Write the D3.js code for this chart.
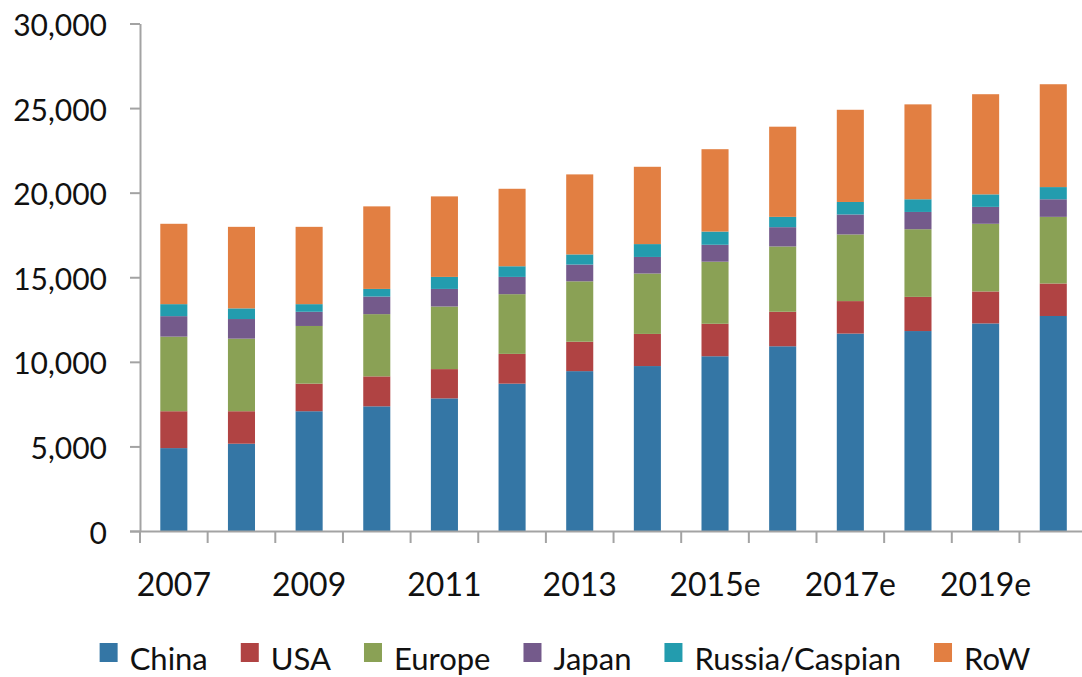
<!DOCTYPE html>
<html>
<head>
<meta charset="utf-8">
<script src="https://cdn.jsdelivr.net/npm/d3@7"></script>
<style>
  body { margin: 0; background: #fff; }
  svg { display: block; }
  text { font-family: Lato, "Open Sans", sans-serif; fill: #111; }
</style>
</head>
<body>
<svg id="chart" width="1082" height="677"></svg>
<script>
// categories and series values
const years = ['2007', '2008', '2009', '2010', '2011', '2012', '2013', '2014',
  '2015e', '2016e', '2017e', '2018e', '2019e', '2020e'];
const labelYears = ['2007', '2009', '2011', '2013', '2015e', '2017e', '2019e'];
const seriesNames = ['China', 'USA', 'Europe', 'Japan', 'Russia/Caspian', 'RoW'];

const china   = [4900, 5160, 7080, 7370, 7840, 8710, 9450, 9750, 10330, 10920, 11670, 11820, 12270, 12710];
const usa     = [2180, 1920, 1630, 1770, 1730, 1760, 1740, 1900, 1920, 2040, 1920, 2020, 1890, 1920];
const europe  = [4410, 4290, 3410, 3680, 3700, 3530, 3570, 3570, 3670, 3860, 3940, 4000, 4000, 3940];
const japan   = [1210, 1160, 840, 1040, 1040, 1020, 990, 980, 1000, 1140, 1180, 1020, 1000, 1040];
const russia  = [710, 630, 450, 450, 710, 630, 600, 760, 780, 610, 740, 750, 740, 720];
const row     = [4750, 4820, 4570, 4880, 4760, 4580, 4730, 4570, 4870, 5330, 5450, 5610, 5920, 6080];

const yTicks = [0, 5000, 10000, 15000, 20000, 25000, 30000];
const colors = ['#3476a5', '#b04343', '#8aa155', '#745a8b', '#239cae', '#e27f42'];

const table = years.map((yr, i) => ({
  year: yr,
  'China': china[i], 'USA': usa[i], 'Europe': europe[i],
  'Japan': japan[i], 'Russia/Caspian': russia[i], 'RoW': row[i]
}));

const svg = d3.select('#chart');
const plotLeft = 140, plotBottom = 531, plotTop = 23.5;
const step = 67.65;
const axisColor = '#a3a3a3';

const x = d3.scaleBand()
  .domain(years)
  .range([plotLeft, plotLeft + step * years.length])
  .paddingInner(0.6)
  .paddingOuter(0.3);

const y = d3.scaleLinear()
  .domain([0, 30000])
  .range([plotBottom, plotTop]);

const color = d3.scaleOrdinal().domain(seriesNames).range(colors);

const stacked = d3.stack().keys(seriesNames)(table);

// bars
svg.append('g')
  .selectAll('g')
  .data(stacked)
  .join('g')
  .attr('fill', d => color(d.key))
  .selectAll('rect')
  .data(d => d)
  .join('rect')
  .attr('x', d => x(d.data.year))
  .attr('y', d => y(d[1]))
  .attr('height', d => y(d[0]) - y(d[1]))
  .attr('width', x.bandwidth());

// y axis
const yAxis = svg.append('g')
  .attr('transform', `translate(${plotLeft},0)`)
  .call(d3.axisLeft(y)
    .tickValues(yTicks)
    .tickSize(10)
    .tickSizeOuter(0)
    .tickPadding(23)
    .tickFormat(d3.format(',')));
yAxis.selectAll('path, line').attr('stroke', axisColor).attr('stroke-width', 2);
yAxis.selectAll('text')
  .attr('font-size', 30)
  .attr('dy', '0.4em')
  .attr('fill', '#111')
  .attr('font-family', 'Lato, sans-serif');

// x axis: labels under every other bar, ticks between bars
const xAxis = svg.append('g')
  .attr('transform', `translate(0,${plotBottom})`)
  .call(d3.axisBottom(x)
    .tickValues(labelYears)
    .tickSize(0)
    .tickSizeOuter(0)
    .tickPadding(42));
xAxis.select('.domain')
  .attr('d', `M${plotLeft - 10},0.5H${plotLeft + step * years.length}`)
  .attr('stroke', axisColor).attr('stroke-width', 2);
xAxis.selectAll('text')
  .attr('font-size', 32)
  .attr('fill', '#111')
  .attr('font-family', 'Lato, sans-serif');

svg.append('g')
  .selectAll('line')
  .data(years)
  .join('line')
  .attr('x1', d => x(d) - x.paddingOuter() * x.step())
  .attr('x2', d => x(d) - x.paddingOuter() * x.step())
  .attr('y1', plotBottom)
  .attr('y2', plotBottom + 12)
  .attr('stroke', axisColor)
  .attr('stroke-width', 2);

// legend
const legend = svg.append('g');
const items = legend.selectAll('g')
  .data(seriesNames)
  .join('g');
items.append('rect')
  .attr('width', 18)
  .attr('height', 19)
  .attr('y', 643)
  .attr('fill', d => color(d));
items.append('text')
  .attr('x', 30)
  .attr('y', 670)
  .attr('font-size', 31)
  .text(d => d);

let cx = 0;
items.each(function() {
  const g = d3.select(this);
  g.attr('transform', `translate(${cx},0)`);
  cx += 30 + g.select('text').node().getComputedTextLength() + 33;
});
const total = cx - 33;
legend.attr('transform', `translate(${565 - total / 2},0)`);
</script>
</body>
</html>
